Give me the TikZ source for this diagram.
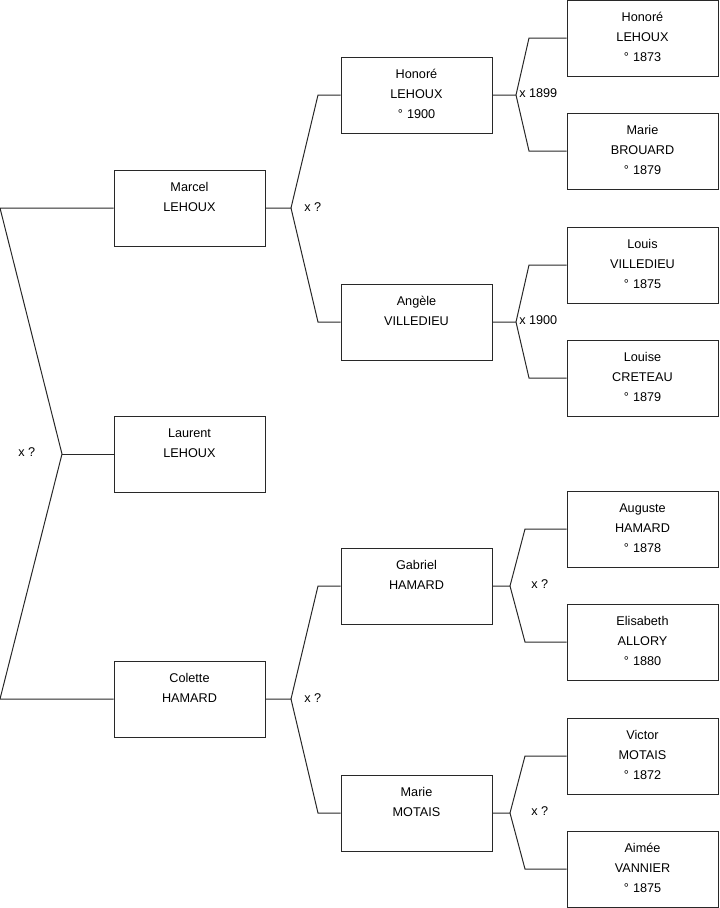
\documentclass[tikz,border=0pt]{standalone}
\usepackage{fontspec}
\setmainfont{Liberation Sans}
\usetikzlibrary{positioning}
\definecolor{treeline}{RGB}{40,40,40}

\begin{document}
\begin{tikzpicture}[
    x=0.75pt, y=-0.75pt,
    font=\fontsize{9.5}{15}\selectfont,
    person/.style={draw=treeline, line width=0.75pt, fill=white, align=center,
                   inner sep=0pt, text width=113pt, minimum width=113.25pt,
                   text height=15.75pt, text depth=41.25pt},
    union/.style={anchor=west, inner sep=0pt},
    link/.style={draw=treeline, line width=0.75pt}
  ]
  \useasboundingbox (0,0) rectangle (719,908);
  % generation 1
  \node[person] (marcel)  at (189.5,208) {Marcel\\LEHOUX};
  \node[person] (laurent) at (189.5,454) {Laurent\\LEHOUX};
  \node[person] (colette) at (189.5,699) {Colette\\HAMARD};
  % generation 2
  \node[person] (honore)  at (416.5,95)  {Honoré\\LEHOUX\\° 1900};
  \node[person] (angele)  at (416.5,322) {Angèle\\VILLEDIEU};
  \node[person] (gabriel) at (416.5,586) {Gabriel\\HAMARD};
  \node[person] (marie)   at (416.5,813) {Marie\\MOTAIS};
  % generation 3
  \node[person] (honoreP)   at (642.5,38)  {Honoré\\LEHOUX\\° 1873};
  \node[person] (brouard)   at (642.5,151) {Marie\\BROUARD\\° 1879};
  \node[person] (louis)     at (642.5,265) {Louis\\VILLEDIEU\\° 1875};
  \node[person] (creteau)   at (642.5,378) {Louise\\CRETEAU\\° 1879};
  \node[person] (auguste)   at (642.5,529) {Auguste\\HAMARD\\° 1878};
  \node[person] (allory)    at (642.5,642) {Elisabeth\\ALLORY\\° 1880};
  \node[person] (victor)    at (642.5,756) {Victor\\MOTAIS\\° 1872};
  \node[person] (vannier)   at (642.5,869) {Aimée\\VANNIER\\° 1875};
  % junctions
  \coordinate (jroot) at (62,454);
  \coordinate (troot) at (0,208);
  \coordinate (broot) at (0,699);
  \coordinate (jmarcel) at (291,208);
  \coordinate (jcolette) at (291,699);
  \coordinate (jhonore) at (516,95);
  \coordinate (jangele) at (516,322);
  \coordinate (jgabriel) at (510,586);
  \coordinate (jmarie) at (510,813);
  % unions
  \node[union] (uroot)    at (18,452)  {x ?};
  \node[union] (umarcel)  at (304,207) {x ?};
  \node[union] (ucolette) at (304,698) {x ?};
  \node[union] (uhonore)  at (519,93)  {x 1899};
  \node[union] (uangele)  at (519,320) {x 1900};
  \node[union] (ugabriel) at (531,584) {x ?};
  \node[union] (umarie)   at (531,811) {x ?};
  % links
  \draw[link] (marcel.west) -- (troot) -- (jroot) -- (broot) -- (colette.west);
  \draw[link] (jroot) -- (laurent.west);
  \draw[link] (marcel.east) -- (jmarcel) -- (318,95) -- (honore.west);
  \draw[link] (jmarcel) -- (318,322) -- (angele.west);
  \draw[link] (colette.east) -- (jcolette) -- (318,586) -- (gabriel.west);
  \draw[link] (jcolette) -- (318,813) -- (marie.west);
  \draw[link] (honore.east) -- (jhonore) -- (529,38) -- (honoreP.west);
  \draw[link] (jhonore) -- (529,151) -- (brouard.west);
  \draw[link] (angele.east) -- (jangele) -- (529,265) -- (louis.west);
  \draw[link] (jangele) -- (529,378) -- (creteau.west);
  \draw[link] (gabriel.east) -- (jgabriel) -- (525,529) -- (auguste.west);
  \draw[link] (jgabriel) -- (525,642) -- (allory.west);
  \draw[link] (marie.east) -- (jmarie) -- (525,756) -- (victor.west);
  \draw[link] (jmarie) -- (525,869) -- (vannier.west);
\end{tikzpicture}
\end{document}
